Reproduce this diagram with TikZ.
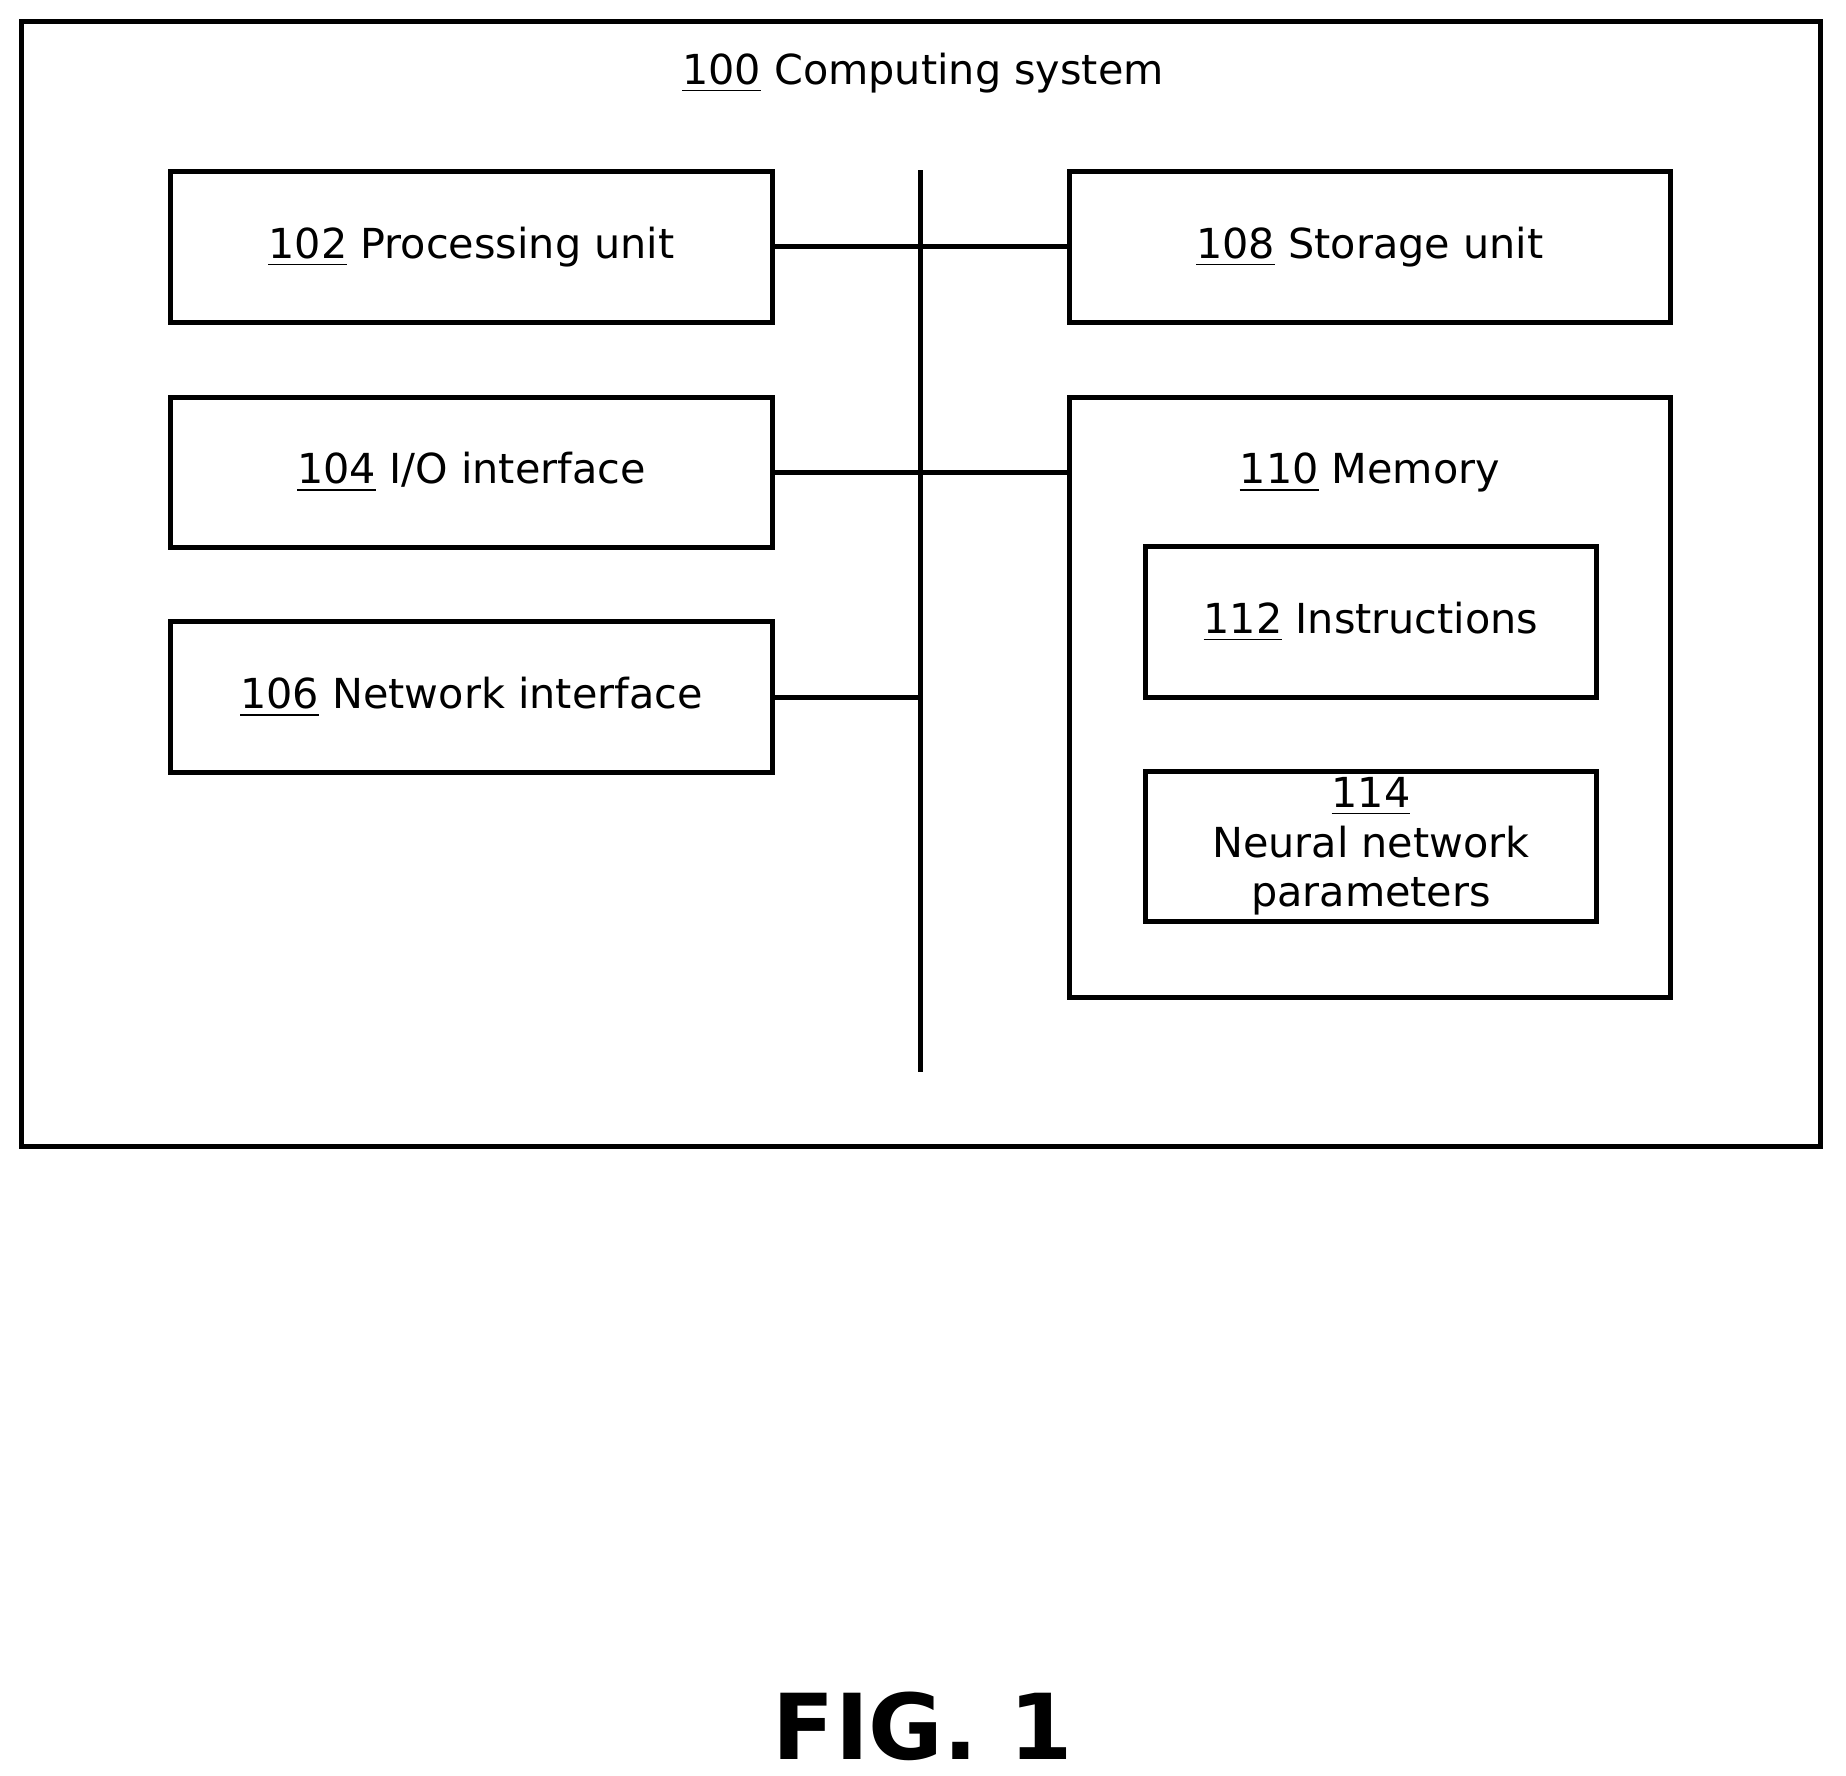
\documentclass[tikz,border=0pt]{standalone}
\usepackage{fontspec}
\setmainfont{DejaVu Sans}
\usetikzlibrary{positioning}

\begin{document}
\begin{tikzpicture}[x=0.01cm, y=-0.01cm, line width=1.2pt,
    box/.style = {draw, minimum width=5.11cm, minimum height=1.28cm, align=center, font=\fontsize{10}{12}\selectfont},
    inbox/.style = {draw, minimum width=3.84cm, minimum height=1.28cm, align=center, inner sep=1pt, font=\fontsize{10}{12}\selectfont},
    lbl/.style = {font=\fontsize{10}{12}\selectfont}]
	\useasboundingbox (0,0) rectangle (1570,1510);
	\draw (18,18) rectangle (1548,975);
	\node[lbl] (title) at (785,62) {\underline{100} Computing system};
	\node[box] (pu) at (401,210) {\underline{102} Processing unit};
	\node[box] (io) at (401,402) {\underline{104} I/O interface};
	\node[box] (ni) at (401,593) {\underline{106} Network interface};
	\node[box] (su) at (1165,210) {\underline{108} Storage unit};
	\node[draw, minimum width=5.11cm, minimum height=5.10cm] (mem) at (1165,593) {};
	\node[lbl] (memlbl) at (1165,402) {\underline{110} Memory};
	\node[inbox] (ins) at (1166,529) {\underline{112} Instructions};
	\node[inbox] (nnp) at (1166,720) {\underline{114}\\Neural network\\parameters};
	\coordinate (bustop) at (783,145);
	\coordinate (busbot) at (783,912);
	\coordinate (busni) at (783,593);
	\draw (bustop) -- (busbot);
	\draw (pu) -- (su);
	\draw (io.east) -- (mem.west |- io.east);
	\draw (ni) -- (busni);
	\node[font=\fontsize{22}{26}\selectfont\bfseries] (fig) at (785,1468) {FIG. 1};
\end{tikzpicture}
\end{document}
